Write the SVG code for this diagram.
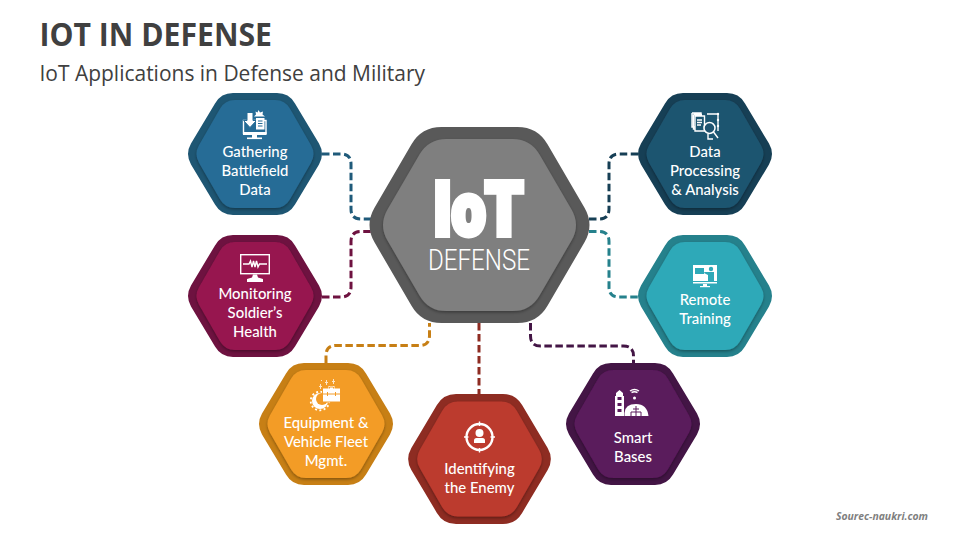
<svg xmlns="http://www.w3.org/2000/svg" width="960" height="540" viewBox="0 0 960 540">
<style>
.title{font-family:"Open Sans","Liberation Sans",sans-serif;font-weight:700;font-size:32px;fill:#404040}
.sub{font-family:"Open Sans","Liberation Sans",sans-serif;font-size:21px;fill:#404040}
.lbl{font-family:Lato,"Liberation Sans",sans-serif;font-size:14.9px;fill:#fff;text-anchor:middle;font-weight:500}
.foot{font-family:"Open Sans","Liberation Sans",sans-serif;font-size:10px;font-weight:700;font-style:italic;fill:#7f7f7f}
.c{fill:none;stroke-width:3;stroke-dasharray:7.5 3.5}
.in{filter:url(#sh)}
.w{fill:#fff}
.ws{fill:none;stroke:#fff;stroke-width:1.4}
</style>
<defs>
<filter id="sh" x="-15%" y="-15%" width="130%" height="130%"><feDropShadow dx="0" dy="1.5" stdDeviation="1.6" flood-color="#000" flood-opacity="0.35"/></filter>
<path id="ho" d="M-22-61H22Q34-61 40-50.600L64-10.400Q70 0 64 10.400L40 50.600Q34 61 22 61H-22Q-34 61-40 50.600L-64 10.400Q-70 0-64-10.400L-40-50.600Q-34-61-22-61Z"/>
<path id="hi" d="M-20-54H20Q30-54 35-45.300L56-8.700Q61 0 56 8.700L35 45.300Q30 54 20 54H-20Q-30 54-35 45.300L-56 8.700Q-61 0-56-8.700L-35-45.300Q-30-54-20-54Z"/>
</defs>
<rect width="960" height="540" fill="#fff"/>
<text class="title" x="39.500" y="46" textLength="232.500" lengthAdjust="spacingAndGlyphs">IOT IN DEFENSE</text>
<text class="sub" x="39.500" y="81" textLength="385.500" lengthAdjust="spacingAndGlyphs">IoT Applications in Defense and Military</text>
<g id="connectors">
<path class="c" stroke="#1f5a7a" d="M322 154H341Q351 154 351 164V209Q351 219 361 219H372"/>
<path class="c" stroke="#6e1240" d="M322 297H341Q351 297 351 287V241.500Q351 231.500 361 231.500H372"/>
<path class="c" stroke="#163f55" d="M589 219H599Q609 219 609 209V164Q609 154 619 154H638"/>
<path class="c" stroke="#25818c" d="M589 231.500H599Q609 231.500 609 241.500V287Q609 297 619 297H638"/>
<path class="c" stroke="#c77f15" d="M326 363V355.500Q326 345.500 336 345.500H419.500Q429.500 345.500 429.500 335.500V323"/>
<path class="c" stroke="#8e2c22" d="M479 323V395"/>
<path class="c" stroke="#431545" d="M530.500 323V336Q530.500 346 540.500 346H623.500Q633.500 346 633.500 356V363"/>
</g>
<g id="node-center" transform="translate(479.500 225)">
<path fill="#595959" d="M-38-98H38Q58-98 68-80.700L105-17.300Q115 0 105 17.300L68 80.700Q58 98 38 98H-38Q-58 98-68 80.700L-105 17.300Q-115 0-105-17.300L-68-80.700Q-58-98-38-98Z"/>
<path class="in" fill="#7f7f7f" d="M-33-86H33Q51-86 60-70.400L92-15.600Q101 0 92 15.600L60 70.400Q51 86 33 86H-33Q-51 86-60 70.400L-92 15.600Q-101 0-92-15.600L-60-70.400Q-51-86-33-86Z"/>
<text transform="translate(-46 10) scale(.6 .747)" font-family="Roboto,'Liberation Sans',sans-serif" font-weight="900" font-size="100" fill="#fff" stroke="#fff" stroke-width="8">IoT</text>
<text x="-51.500" y="45" font-family="Roboto,'Liberation Sans',sans-serif" font-weight="300" font-size="29" fill="#fff" textLength="102" lengthAdjust="spacingAndGlyphs">DEFENSE</text>
</g>
<g id="node-gathering" transform="translate(255 154)">
<use href="#ho" fill="#1e5673"/><use href="#hi" class="in" fill="#276c96"/>
<rect class="ws" x="-11.500" y="-33.500" width="22.500" height="13"/>
<rect class="w" x="-12" y="-22" width="23.500" height="3"/><rect class="w" x="-3" y="-19" width="5" height="3"/><rect class="w" x="-8" y="-16.500" width="15" height="1.600"/>
<path class="w" stroke="#276c96" stroke-width="1" d="M-8-41.500H-2V-33.500H1.500L-5-26.500-11.500-33.500H-8Z"/>
<rect class="w" x="1" y="-36" width="8.500" height="11.500"/><path fill="none" stroke="#276c96" stroke-width="1" d="M3-33H7.500M3-30.500H7.500M3-28H7.500"/>
<path class="w" d="M3.500-44 5-41.500 8-42.500 7.500-39.500 10-37.500H-1L1-39.500 0.500-42.500 2.500-41.500Z"/>
<text class="lbl" y="3">Gathering</text><text class="lbl" y="22">Battlefield</text><text class="lbl" y="41">Data</text>
</g>
<g id="node-monitoring" transform="translate(255 296)">
<use href="#ho" fill="#6e1240"/><use href="#hi" class="in" fill="#97174f"/>
<rect class="ws" x="-14.300" y="-41.300" width="28.600" height="19"/>
<path class="ws" stroke-width="1" d="M-12-32H-6L-4.500-35-3-29-1.500-35 0-29 1.500-35 3-29 4.500-32H12"/>
<path class="w" d="M-2-21.500H2L3-18.500 8-17V-14H-8V-17L-3-18.500Z"/>
<text class="lbl" y="3">Monitoring</text><text class="lbl" y="22">Soldier’s</text><text class="lbl" y="41">Health</text>
</g>
<g id="node-data" transform="translate(705 154)">
<use href="#ho" fill="#163f55"/><use href="#hi" class="in" fill="#1f5470"/>
<path class="ws" stroke-width="1.200" d="M-13-41H-4V-39M-11.500-39.500H-3M-10-38H-0.500V-23H-10Z"/>
<path class="ws" stroke-width="1.200" d="M-13-41V-27H-10M-11.500-39.500V-25H-10"/>
<path class="ws" stroke-width="1" d="M-8-34H-3M-8-31.500H-3M-8-29H-4"/>
<path class="ws" stroke-width="1" d="M2-40H13M13-40V-23M3-20V-15H8"/>
<circle cx="4.500" cy="-26" r="5.500" fill="#1f5470" stroke="#fff" stroke-width="1.500"/>
<path class="ws" stroke-width="2" d="M8.500-22 13-16"/>
<circle class="w" cx="13" cy="-40" r="1.200"/><circle class="w" cx="13" cy="-34" r="1.200"/><circle class="w" cx="13" cy="-28" r="1.200"/>
<text class="lbl" y="3">Data</text><text class="lbl" y="22">Processing</text><text class="lbl" y="41">&amp; Analysis</text>
</g>
<g id="node-remote" transform="translate(705 296)">
<use href="#ho" fill="#25818c"/><use href="#hi" class="in" fill="#2fa9b8"/>
<rect class="w" x="-12" y="-31" width="24" height="16"/><rect class="w" x="-12" y="-14" width="24" height="1.500"/><rect class="w" x="-2" y="-12" width="4" height="2"/><rect class="w" x="-5" y="-10" width="10" height="1.200"/>
<rect x="-10" y="-28" width="9" height="6" fill="#2fa9b8"/>
<circle cx="6" cy="-27" r="2.200" fill="#2fa9b8"/><path fill="#2fa9b8" d="M2-24H9V-15H3V-21L-1-23-0.500-24Z"/>
<text class="lbl" y="8.500">Remote</text><text class="lbl" y="27.500">Training</text>
</g>
<g id="node-equipment" transform="translate(326 424)">
<use href="#ho" fill="#c77f15"/><use href="#hi" class="in" fill="#f39c28"/>
<circle cx="-6" cy="-23" r="8" fill="#fff"/><circle cx="-6" cy="-23" r="9.300" fill="none" stroke="#fff" stroke-width="1.800" stroke-dasharray="2 2.400"/>
<circle cx="-4" cy="-25" r="6" fill="#f39c28"/>
<rect x="-4" y="-36.500" width="19" height="15" fill="#f39c28"/>
<path class="w" d="M-3-35.500H2.500V-38H8.500V-35.500H14V-22.500H-3Z"/>
<path fill="none" stroke="#f39c28" stroke-width="1" d="M3.500-35.500V-37H7.500V-35.500M-3-30H14M1.500-32V-28M9.500-32V-28"/>
<path class="w" opacity=".75" d="M-1-42h1v-2h1v2h1v1h-1v2h-1v-2h-1zM-7-38h1v-2h1v2h1v1h-1v2h-1v-2h-1zM6-43h1v-2h1v2h1v1h-1v2h-1v-2h-1zM-5-44h1v1h-1z"/>
<text class="lbl" y="4">Equipment &amp;</text><text class="lbl" y="23">Vehicle Fleet</text><text class="lbl" y="42">Mgmt.</text>
</g>
<g id="node-identify" transform="translate(479.500 459)">
<use href="#ho" fill="#8e2c22" transform="scale(1.065)"/><use href="#hi" class="in" fill="#bc3a2e" transform="scale(1.065)"/>
<circle cx="0" cy="-22" r="13" fill="none" stroke="#fff" stroke-width="2.400"/>
<path class="ws" stroke-width="2.400" d="M0-37.500V-33M0-11V-6.500M-15.500-22H-11M11-22H15.500"/>
<circle class="w" cx="0" cy="-26" r="4"/>
<path class="w" d="M-5.500-16V-18.500Q-5.500-21-3-21H3Q5.500-21 5.500-18.500V-16Z"/>
<text class="lbl" y="15">Identifying</text><text class="lbl" y="34">the Enemy</text>
</g>
<g id="node-smart" transform="translate(633 424)">
<use href="#ho" fill="#431545"/><use href="#hi" class="in" fill="#5a1a5c"/>
<path class="w" d="M-17-28V-31L-13.500-34-10-31V-28H-9V-8H-18V-28Z"/>
<path fill="#5a1a5c" d="M-15.500-27H-11.500V-24H-15.500ZM-15.500-21H-11.500V-18H-15.500ZM-15.500-15H-11.500V-12H-15.500Z"/>
<path class="w" d="M-8.500-8V-11Q-8-20 3-20 14-20 15.500-8Z"/>
<path fill="none" stroke="#5a1a5c" stroke-width="1" d="M3-18V-8M0-15H6M-2-8V-12H8V-8"/>
<circle class="w" cx="1.500" cy="-26" r="1.500"/>
<path class="ws" stroke-width="1" d="M-3-33Q1.500-36 6-33M-1.500-31.500Q1.500-33 4.500-31.500"/>
<text class="lbl" y="19">Smart</text><text class="lbl" y="38">Bases</text>
</g>
<text class="foot" x="836" y="520" textLength="92" lengthAdjust="spacingAndGlyphs">Sourec-naukri.com</text>
</svg>
